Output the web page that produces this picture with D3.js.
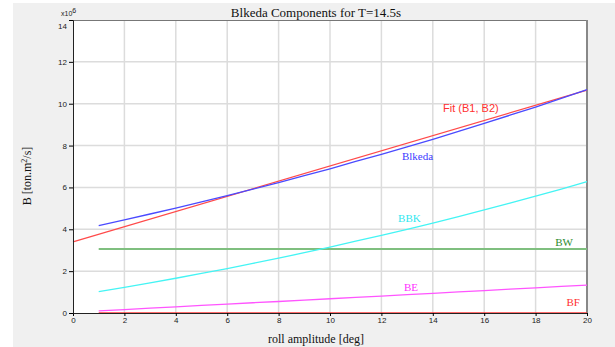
<!DOCTYPE html>
<html><head><meta charset="utf-8">
<script src="https://cdn.jsdelivr.net/npm/d3@7"></script>
<style>body{margin:0;background:#fff}svg{display:block}</style>
</head><body>
<script>
// ---- data (values in units of 1e6 ton.m^2/s) ----
const rollAmp = [1,2,3,4,5,6,7,8,9,10,11,12,13,14,15,16,17,18,19,20];
const BF     = [0,0,0,0,0,0,0,0,0,0,0,0,0,0,0,0,0,0,0,0];
const BW     = [3.06,3.06,3.06,3.06,3.06,3.06,3.06,3.06,3.06,3.06,3.06,3.06,3.06,3.06,3.06,3.06,3.06,3.06,3.06,3.06];
const BE     = [0.10,0.165,0.23,0.29,0.36,0.42,0.49,0.55,0.62,0.68,0.75,0.81,0.88,0.94,1.01,1.07,1.14,1.20,1.27,1.33];
const BBK    = [1.02,1.225,1.44,1.66,1.89,2.125,2.37,2.62,2.88,3.15,3.43,3.71,4.00,4.30,4.61,4.93,5.25,5.58,5.92,6.28];
const Blkeda = [4.18,4.45,4.73,5.01,5.31,5.605,5.92,6.23,6.56,6.89,7.24,7.58,7.94,8.30,8.68,9.06,9.45,9.84,10.25,10.67];
const fitX   = [0,20];
const fitY   = [3.40,10.65];
const xTicks = [0,2,4,6,8,10,12,14,16,18,20];
const yTicks = [0,2,4,6,8,10,12,14];
const title  = "Blkeda Components for T=14.5s";
const xLabel = "roll amplitude [deg]";

const W = 615, H = 347;
const m = {l:73, r:587, t:20, b:313};
const svg = d3.select("body").append("svg").attr("width",W).attr("height",H);
svg.append("rect").attr("x",13).attr("y",3).attr("width",W-13).attr("height",H-3).attr("fill","#f0f0f0");
svg.append("rect").attr("x",m.l).attr("y",m.t).attr("width",m.r-m.l).attr("height",m.b-m.t).attr("fill","#fff");

const x = d3.scaleLinear().domain([0,20]).range([m.l,m.r]);
const y = d3.scaleLinear().domain([0,14]).range([m.b,m.t]);

// grid
const g = svg.append("g");
g.selectAll(".gx").data(xTicks.slice(1,-1)).join("line")
  .attr("x1",d=>x(d)).attr("x2",d=>x(d)).attr("y1",m.t).attr("y2",m.b)
  .attr("stroke","#dcdcdc").attr("stroke-width",1.5);
g.selectAll(".gy").data(yTicks.slice(1,-1)).join("line")
  .attr("y1",d=>y(d)).attr("y2",d=>y(d)).attr("x1",m.l).attr("x2",m.r)
  .attr("stroke","#dcdcdc").attr("stroke-width",1.5);

// border top/right
svg.append("line").attr("x1",m.l).attr("x2",m.r).attr("y1",m.t+0.5).attr("y2",m.t+0.5).attr("stroke","#777").attr("stroke-width",1);
svg.append("line").attr("x1",m.r).attr("x2",m.r).attr("y1",m.t).attr("y2",m.b).attr("stroke","#888").attr("stroke-width",2);

// series
const line = d3.line().x(d=>x(d[0])).y(d=>y(d[1]));
function draw(xs, ys, color, w){
  svg.append("path").datum(xs.map((v,i)=>[v,ys[i]]))
    .attr("d",line).attr("fill","none").attr("stroke",color).attr("stroke-width",w);
}
draw(rollAmp, BW, "#7fbf7f", 2);
draw(rollAmp, BBK, "#44f4f4", 1.3);
draw(rollAmp, BE, "#ff55ff", 1.3);
draw(fitX, fitY, "#ff4a4a", 1.3);
draw(rollAmp, Blkeda, "#4a4aff", 1.3);
draw(rollAmp, BF, "#ff3a3a", 1.6);

// axes
const xAxis = d3.axisBottom(x).tickValues(xTicks).tickSize(3).tickFormat(d3.format("d"));
const xMinor = d3.axisBottom(x).tickValues(d3.range(0,20.01,0.5)).tickSize(2).tickFormat("");
const ax = svg.append("g").attr("transform",`translate(0,${m.b})`);
ax.call(xMinor);
ax.call(xAxis);
ax.selectAll("path.domain").attr("stroke","#222");
ax.selectAll("text").attr("font-family","Liberation Sans, Arial, sans-serif").attr("font-size",8).attr("fill","#222").attr("dy","0.45em");

const yAxis = d3.axisLeft(y).tickValues(yTicks).tickSize(4).tickFormat(d3.format("d"));
const yMinor = d3.axisLeft(y).tickValues(d3.range(0,14.01,0.4)).tickSize(2).tickFormat("");
const ay = svg.append("g").attr("transform",`translate(${m.l},0)`);
ay.call(yMinor);
ay.call(yAxis);
ay.selectAll("path.domain").attr("stroke","#222");
ay.selectAll("text").attr("font-family","Liberation Sans, Arial, sans-serif").attr("font-size",8).attr("fill","#222").attr("dx","1px");
// top label sits just below the axis top
ay.selectAll(".tick").filter(d=>d===14).select("text").attr("dy","1.0em");

// x10^6
const ex = svg.append("text").attr("x",61).attr("y",16).attr("font-family","Liberation Sans, Arial, sans-serif").attr("font-size",7).attr("fill","#222");
ex.append("tspan").text("x10");
ex.append("tspan").attr("dy",-3).attr("font-size",7).text("6");

// titles
const serif = "Liberation Serif, Times New Roman, serif";
svg.append("text").attr("x",316).attr("y",17).attr("text-anchor","middle").attr("font-family",serif).attr("font-size",13).attr("fill","#111").text(title);
svg.append("text").attr("x",316).attr("y",343).attr("text-anchor","middle").attr("font-family",serif).attr("font-size",12).attr("fill","#111").text(xLabel);
const yl = svg.append("text").attr("transform","translate(31,176) rotate(-90)").attr("text-anchor","middle").attr("font-family",serif).attr("font-size",12).attr("fill","#111");
yl.append("tspan").text("B [ton.m");
yl.append("tspan").attr("dy",-4).attr("font-size",8).text("2");
yl.append("tspan").attr("dy",4).text("/s]");

// curve labels (data coords)
const labels = [
  {t:"Fit (B1, B2)", x:14.4, y:9.62, c:"#ff3030", f:"Liberation Sans, Arial, sans-serif"},
  {t:"Blkeda", x:12.8, y:7.31, c:"#3a3aff", f:serif},
  {t:"BBK", x:12.65, y:4.35, c:"#30e8f0", f:serif},
  {t:"BW", x:18.76, y:3.20, c:"#2e8b2e", f:serif},
  {t:"BE", x:12.88, y:1.05, c:"#ff30ff", f:serif},
  {t:"BF", x:19.2, y:0.33, c:"#ff3030", f:serif}
];
svg.selectAll(".lbl").data(labels).join("text")
  .attr("x",d=>x(d.x)).attr("y",d=>y(d.y)).attr("font-family",d=>d.f)
  .attr("font-size",11).attr("fill",d=>d.c).text(d=>d.t);
</script>
</body></html>
